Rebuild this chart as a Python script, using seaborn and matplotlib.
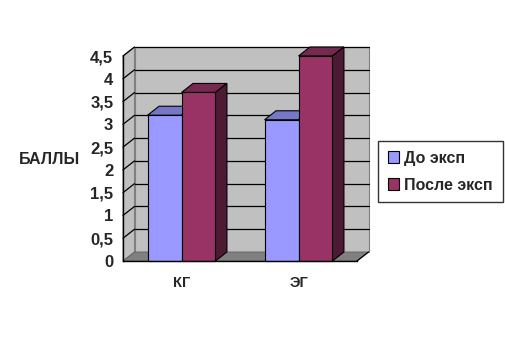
import matplotlib
matplotlib.use("Agg")
import matplotlib.pyplot as plt
from matplotlib.patches import Rectangle
import seaborn as sns
import pandas as pd
import numpy as np
from matplotlib.patches import Polygon, Patch

categories = ["КГ", "ЭГ"]
series = ["До эксп", "После эксп"]
before_vals = [3.2, 3.1]
after_vals = [3.7, 4.5]
colors = ["#9999ff", "#993366"]
yticks = [0, 0.5, 1, 1.5, 2, 2.5, 3, 3.5, 4, 4.5]
ytick_labels = ["0", "0,5", "1", "1,5", "2", "2,5", "3", "3,5", "4", "4,5"]

df = pd.DataFrame({
    "group": categories * 2,
    "period": [series[0]] * 2 + [series[1]] * 2,
    "value": before_vals + after_vals,
})

sns.set_style("white")
plt.rcParams["font.family"] = ["Liberation Sans", "DejaVu Sans"]
plt.rcParams["font.weight"] = "bold"

W, H = 506, 340
fig = plt.figure(figsize=(W / 100, H / 100), dpi=100)
# front plane in pixels
L, R, B, T = 123, 357, 261, 56
ax = fig.add_axes([L / W, 1 - B / H, (R - L) / W, (B - T) / H])

sns.barplot(data=df, x="group", y="value", hue="period", order=categories,
            hue_order=series, palette=colors, width=0.58, edgecolor="black",
            linewidth=0.8, ax=ax, legend=False, saturation=1)
bars = [p for p in ax.patches if isinstance(p, Rectangle) and p.get_height() > 0]
bars = sorted(bars, key=lambda p: p.get_x())
ax.set_xlim(-0.5, 1.5)
ax.set_ylim(0, 4.5)

# depth offset in data units
dxp, dyp = 11.5, 9.0
dx = dxp * 2.0 / (R - L)
dy = dyp * 4.5 / (B - T)
x0, x1 = -0.5, 1.5
wall = "#c0c0c0"

# back wall
ax.add_patch(Polygon([(x0 + dx, dy), (x1 + dx, dy), (x1 + dx, 4.5 + dy), (x0 + dx, 4.5 + dy)],
                     closed=True, facecolor=wall, edgecolor="#808080", lw=0.8,
                     zorder=0.2, clip_on=False))
# left wall
ax.add_patch(Polygon([(x0, 0), (x0 + dx, dy), (x0 + dx, 4.5 + dy), (x0, 4.5)],
                     closed=True, facecolor=wall, edgecolor="#808080", lw=0.8,
                     zorder=0.2, clip_on=False))
# gridlines
for v in yticks[1:]:
    ax.plot([x0 + dx, x1 + dx], [v + dy, v + dy], color="black", lw=0.9,
            zorder=0.4, clip_on=False)
    ax.plot([x0, x0 + dx], [v, v + dy], color="black", lw=0.9,
            zorder=0.4, clip_on=False)
# floor
ax.add_patch(Polygon([(x0, 0), (x1, 0), (x1 + dx, dy), (x0 + dx, dy)],
                     closed=True, facecolor="#808080", edgecolor="#606060", lw=0.6,
                     zorder=0.6, clip_on=False))
ax.plot([x1, x1 + dx], [0, dy], color="black", lw=0.9, zorder=0.7, clip_on=False)

# 3D faces for bars
for i, p in enumerate(bars):
    x, w, h = p.get_x(), p.get_width(), p.get_height()
    fc = np.array(p.get_facecolor()[:3])
    z = 2 + i
    p.set_zorder(z + 0.5)
    p.set_clip_on(False)
    top = Polygon([(x, h), (x + w, h), (x + w + dx, h + dy), (x + dx, h + dy)],
                  closed=True, facecolor=fc * 0.78, edgecolor="black", lw=0.8,
                  zorder=z, clip_on=False)
    side = Polygon([(x + w, 0), (x + w + dx, dy), (x + w + dx, h + dy), (x + w, h)],
                   closed=True, facecolor=fc * 0.5, edgecolor="black", lw=0.8,
                   zorder=z, clip_on=False)
    ax.add_patch(top)
    ax.add_patch(side)

# axes styling
for s in ["top", "right"]:
    ax.spines[s].set_visible(False)
for s in ["left", "bottom"]:
    ax.spines[s].set_color("black")
    ax.spines[s].set_linewidth(1.0)
    ax.spines[s].set_zorder(20)

ax.set_yticks(yticks)
ax.set_yticklabels(ytick_labels, fontsize=12, fontweight="bold")
ax.tick_params(axis="y", direction="out", length=5, width=1, color="black", pad=2)
ax.set_xticks([0, 1])
ax.set_xticklabels(categories, fontsize=10.5, fontweight="bold")
ax.set_xticks([-0.5, 0.5, 1.5], minor=True)
ax.tick_params(axis="x", which="major", length=0, pad=11)
ax.tick_params(axis="x", which="minor", direction="out", length=5, width=1, color="black")
ax.set_xlabel("")
ax.set_ylabel("БАЛЛЫ", rotation=0, fontsize=11.5, fontweight="bold")
ax.yaxis.set_label_coords((50 - L) / (R - L), (B - 160) / (B - T))
ax.yaxis.label.set_ha("center")
ax.yaxis.label.set_va("center")
ax.grid(False)

handles = [Patch(facecolor=c, edgecolor="black", lw=0.8) for c in colors]
leg = fig.legend(handles, series, loc="upper left",
                 bbox_to_anchor=(378 / W, 1 - 141 / H), frameon=True,
                 prop={"family": "Liberation Sans", "weight": "bold", "size": 11.5},
                 handlelength=0.7, handleheight=0.7, handletextpad=0.35,
                 borderpad=0.6, labelspacing=0.75, fancybox=False, borderaxespad=0)
leg.get_frame().set_edgecolor("black")
leg.get_frame().set_linewidth(1.0)

fig.savefig("out.png", dpi=100, facecolor="white")
